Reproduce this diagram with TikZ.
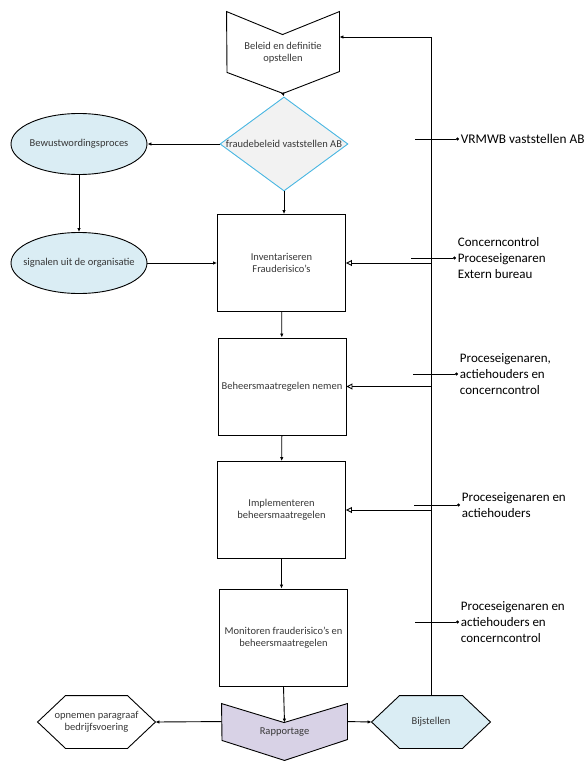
\documentclass[tikz,border=0pt]{standalone}
\usepackage{fontspec}
\setmainfont{Carlito}
\usetikzlibrary{calc,positioning,shapes.geometric,backgrounds,arrows.meta}
\definecolor{lichtblauw}{RGB}{218,237,244}
\definecolor{lila}{RGB}{216,210,230}
\definecolor{cyaan}{RGB}{72,182,226}
\definecolor{lichtgrijs}{RGB}{242,242,242}
\definecolor{tekstgrijs}{RGB}{55,55,55}
\tikzset{vorm/.style={inner sep=0pt, align=center, text=tekstgrijs, font=\fontsize{10.5}{12.5}\selectfont},
  stap/.style={vorm, draw, minimum width=128pt, minimum height=97pt},
  omtrek/.style={draw=black, line width=0.9pt},
  pijl/.style={-{Latex[length=4pt,width=3.5pt]}},
  terug/.style={-{Triangle[open,length=6pt,width=6pt]}},
  punt/.style={-{Circle[length=3pt]}},
  rol/.style={anchor=west, align=left, inner sep=1.5pt, font=\fontsize{13}{16}\selectfont}}
\begin{document}
\begin{tikzpicture}[x=1pt,y=-1pt,line width=0.9pt]
  \useasboundingbox (0,0) rectangle (588,768);
  % hoofdlijn
  \node[vorm, minimum width=112pt, minimum height=81pt] (beleid) at (283,52.5) {Beleid en definitie\\opstellen};
  \node[vorm, diamond, draw=cyaan, fill=lichtgrijs, minimum width=128pt, minimum height=94pt] (fraude) at (284,144) {\makebox[0pt]{fraudebeleid vaststellen AB}};
  \node[stap] (invent) at (281.5,263) {Inventariseren\\Frauderisico's};
  \node[stap] (beheer) at (282,386.5) {Beheersmaatregelen nemen};
  \node[stap] (implem) at (281.5,510) {Implementeren\\beheersmaatregelen};
  \node[stap] (monitor) at (283.5,637.5) {Monitoren frauderisico's en\\beheersmaatregelen};
  \node[vorm, minimum width=125pt, minimum height=56pt] (rapport) at (284.5,732) {Rapportage};
  % zijkant
  \node[vorm, ellipse, draw, fill=lichtblauw, minimum width=136pt, minimum height=61pt] (bewust) at (79,144) {\makebox[0pt]{Bewustwordingsproces}};
  \node[vorm, ellipse, draw, fill=lichtblauw, minimum width=136pt, minimum height=61pt] (signalen) at (79,263) {\makebox[0pt]{signalen uit de organisatie}};
  \node[vorm, minimum width=117pt, minimum height=52pt] (opnemen) at (96.5,722) {opnemen paragraaf\\bedrijfsvoering};
  \node[vorm, minimum width=118pt, minimum height=52pt] (bijstel) at (431,722) {Bijstellen};
  \begin{scope}[on background layer]
    \draw[omtrek, fill=white] (beleid.north west) -- ++(56,23) -- (beleid.north east) -- ++(0,60) -- (beleid.south) -- ++(-56,-21) -- cycle;
    \draw[omtrek, fill=lila] (rapport.north west) -- ++(62.5,19) -- (rapport.north east) -- ++(0,36) -- (rapport.south) -- ++(-62.5,-20) -- cycle;
    \foreach \h/\kleur in {opnemen/white,bijstel/lichtblauw}
      \draw[omtrek, fill=\kleur] (\h.west) -- ($(\h.north west)+(28,0)$) -- ($(\h.north east)+(-28,0)$) -- (\h.east)
        -- ($(\h.south east)+(-28,0)$) -- ($(\h.south west)+(28,0)$) -- cycle;
  \end{scope}
  % rollen
  \node[rol, font=\fontsize{13.3}{16}\selectfont] (vrmwb) at (459,139) {VRMWB vaststellen AB};
  \node[rol] (concern) at (456,258) {Concerncontrol\\Proceseigenaren\\Extern bureau};
  \node[rol] (pe1) at (458,374) {Proceseigenaren,\\actiehouders en\\concerncontrol};
  \node[rol] (pe2) at (460,505) {Proceseigenaren en\\actiehouders};
  \node[rol] (pe3) at (459,622) {Proceseigenaren en\\actiehouders en\\concerncontrol};
  % verbindingen
  \path[pijl]
    (beleid.south) edge (fraude.north)
    (fraude.west) edge (bewust.east)
    (fraude.south) edge (fraude.south |- invent.north)
    (bewust) edge (signalen)
    (signalen) edge (invent)
    (invent) edge (beheer)
    (beheer) edge (implem)
    (implem) edge (implem.south |- monitor.north)
    (monitor.south) edge ($(rapport.north)+(0,19)$)
    ($(rapport.north west)+(0,18)$) edge (opnemen.east)
    ($(rapport.north east)+(0,18)$) edge (bijstel.west);
  \coordinate (hoek) at (431,37);
  \draw[pijl] (bijstel.north) -- (hoek) -- (hoek -| beleid.east);
  \foreach \s in {invent,beheer,implem}
    \draw[terug] (\s.east -| hoek) -- (\s.east);
  \foreach \r/\x in {vrmwb/415,concern/411,pe1/413,pe2/414,pe3/415} {
    \coordinate (\r-start) at (\r.west -| \x,0);
    \draw[punt] (\r-start) -- (\r.west);
  }
\end{tikzpicture}
\end{document}
